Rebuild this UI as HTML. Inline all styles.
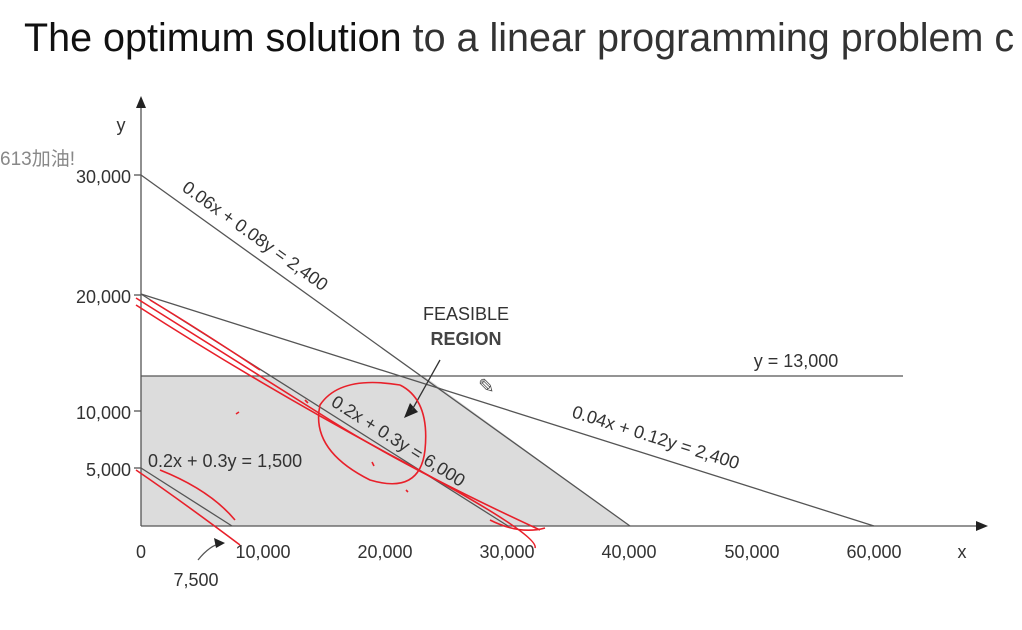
<!DOCTYPE html>
<html><head><meta charset="utf-8"><style>
body{margin:0;width:1022px;height:630px;overflow:hidden;background:#fff;font-family:"Liberation Sans","Noto Sans CJK SC",sans-serif}
</style></head><body>
<svg width="1022" height="630" xmlns="http://www.w3.org/2000/svg" style="position:absolute;left:0;top:0">
<text x="24" y="51" font-size="39.5" fill="#111" font-family="Liberation Sans, sans-serif">The optimum solution <tspan fill="#333">to a linear programming problem c</tspan></text>
<polygon points="141,376 424,376 630,526 141,526" fill="#dcdcdc"/>
<g stroke="#555" stroke-width="1.3" fill="none">
<line x1="141" y1="526" x2="141" y2="104"/>
<line x1="141" y1="526" x2="980" y2="526"/>
<line x1="141" y1="175" x2="630" y2="526"/>
<line x1="141" y1="294" x2="874" y2="526"/>
<line x1="141" y1="376" x2="903" y2="376"/>
<line x1="141" y1="294" x2="508" y2="526"/>
<line x1="141" y1="468" x2="232" y2="526"/>
<line x1="134" y1="175" x2="141" y2="175"/><line x1="134" y1="295" x2="141" y2="295"/>
<line x1="134" y1="411" x2="141" y2="411"/><line x1="134" y1="468" x2="141" y2="468"/>
<path d="M198,560 Q210,545 222,543"/>
</g>
<polygon points="141,96 136,108 146,108" fill="#222"/>
<polygon points="988,526 976,521 976,531" fill="#222"/>
<polygon points="225,543 214,538 216,548" fill="#222"/>
<polygon points="404,418 410,403 418,412" fill="#222"/>
<line x1="440" y1="360" x2="412" y2="410" stroke="#333" stroke-width="1.3"/>
<g font-size="18" fill="#333" text-anchor="end">
<text x="131" y="183">30,000</text><text x="131" y="303">20,000</text>
<text x="131" y="419">10,000</text><text x="131" y="476">5,000</text>
</g>
<g font-size="18" fill="#333" text-anchor="middle">
<text x="141" y="558">0</text><text x="263" y="558">10,000</text><text x="385" y="558">20,000</text>
<text x="507" y="558">30,000</text><text x="629" y="558">40,000</text><text x="752" y="558">50,000</text>
<text x="874" y="558">60,000</text><text x="962" y="558">x</text><text x="196" y="586">7,500</text>
<text x="121" y="131">y</text>
<text x="466" y="320">FEASIBLE</text><text x="466" y="345" font-weight="bold" fill="#444">REGION</text>
<text x="796" y="367">y = 13,000</text>
</g>
<text x="0" y="165" font-size="19" fill="#888">613加油!</text>
<g font-size="18" fill="#333">
<text x="148" y="467">0.2x + 0.3y = 1,500</text>
<text transform="translate(181,190) rotate(35.7)">0.06x + 0.08y = 2,400</text>
<text transform="translate(571,417) rotate(17.5)">0.04x + 0.12y = 2,400</text>
<text transform="translate(330,405) rotate(32.3)">0.2x + 0.3y = 6,000</text>
</g>
<g stroke="#e8202a" stroke-width="1.6" fill="none">
<path d="M136,298 Q250,370 330,420 T540,530"/>
<path d="M136,305 Q260,385 400,460 T535,548"/>
<path d="M150,300 Q200,330 260,370"/>
<path d="M400,385 Q340,375 320,405 Q310,450 370,480 Q420,495 425,450 Q430,400 400,385"/>
<path d="M136,470 Q180,500 240,545"/>
<path d="M160,470 Q210,490 235,520"/>
<path d="M490,520 Q520,535 545,528"/>
<path d="M236,414 l3,-2 M305,400 l3,3 M372,462 l2,4 M406,490 l2,2"/>
</g>
<text x="478" y="393" font-size="20" fill="#555">✎</text>
</svg>
</body></html>
